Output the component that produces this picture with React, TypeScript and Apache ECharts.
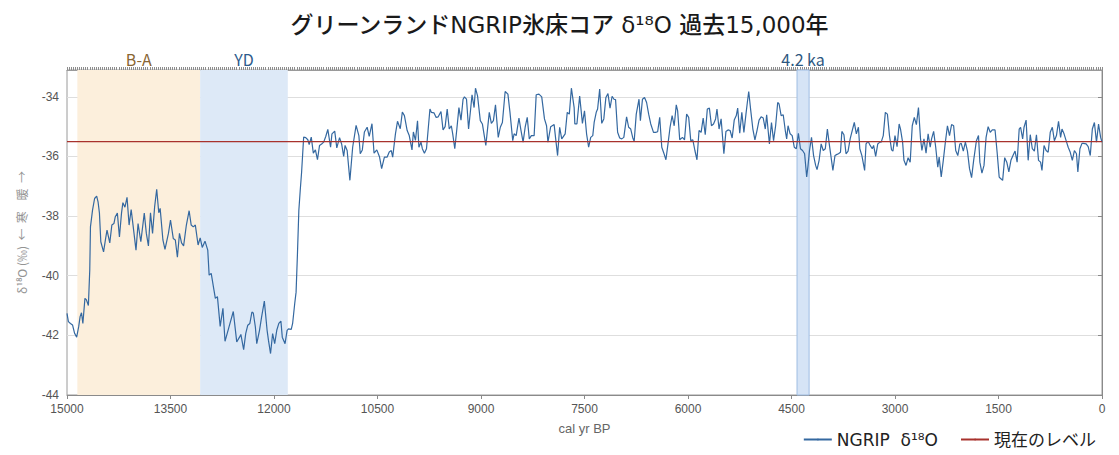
import React, { useEffect, useRef } from "react";
import * as echarts from "echarts";

// [cal yr BP, δ18O ‰]
const lateGlacialStart: [number, number][] = [
  [15000, -41.26], [14980, -41.54], [14950, -41.6], [14920, -41.65], [14890, -41.93], [14860, -42.06],
  [14830, -41.7], [14810, -41.37], [14790, -41.24], [14770, -41.6], [14740, -40.76], [14720, -40.8],
  [14690, -41.0], [14670, -39.8], [14660, -38.36], [14630, -37.8], [14600, -37.41], [14570, -37.33],
];
const bollingAllerod: [number, number][] = [
  [14550, -37.52], [14530, -37.9], [14510, -38.86], [14470, -39.2], [14440, -38.75], [14420, -38.47],
  [14380, -38.9], [14350, -38.3], [14320, -38.25], [14300, -38.02], [14270, -37.9], [14240, -38.7],
  [14210, -37.9], [14190, -37.55], [14160, -37.7], [14130, -37.37], [14100, -38.3], [14070, -37.78],
  [14040, -38.36], [14000, -39.14], [13970, -38.25], [13930, -38.86], [13880, -37.9], [13850, -38.58],
  [13820, -39.0], [13790, -37.89], [13760, -38.58], [13730, -37.69], [13700, -37.1], [13670, -37.89],
  [13650, -37.74], [13610, -38.8], [13580, -39.12], [13530, -38.58], [13500, -38.13], [13460, -38.75],
  [13430, -38.8], [13400, -39.38], [13370, -38.58], [13340, -38.9], [13310, -39.0], [13270, -38.3],
  [13230, -37.82], [13200, -38.3], [13170, -38.36], [13140, -38.3], [13100, -38.97], [13070, -38.73],
];
const youngerDryas: [number, number][] = [
  [13040, -39.05], [13000, -38.84], [12960, -39.14], [12940, -39.98], [12910, -39.92], [12870, -40.48],
  [12850, -40.76], [12820, -40.7], [12780, -41.7], [12740, -41.09], [12710, -42.2], [12650, -41.7],
  [12590, -41.2], [12540, -42.22], [12500, -42.06], [12480, -41.97], [12440, -42.48], [12410, -41.94],
  [12380, -41.66], [12350, -41.6], [12320, -41.22], [12300, -41.25], [12270, -41.72], [12250, -42.28],
  [12210, -41.83], [12180, -41.39], [12140, -40.85], [12100, -41.83], [12080, -42.17], [12050, -42.61],
  [12020, -41.94], [11990, -42.28], [11960, -41.83], [11930, -41.6], [11900, -41.52], [11880, -42.06],
  [11840, -42.28], [11810, -41.83], [11790, -41.78], [11750, -41.8], [11730, -41.6], [11700, -40.94],
  [11680, -40.55], [11660, -39.26], [11640, -37.81], [11620, -37.14], [11600, -36.53],
];
const earlyHolocene: [number, number][] = [
  [11570, -35.35], [11540, -35.37], [11510, -35.44], [11490, -35.6], [11460, -35.35], [11430, -35.89],
  [11400, -35.78], [11370, -36.11], [11340, -35.63], [11310, -35.58], [11280, -35.52], [11250, -35.33],
  [11220, -35.09], [11180, -35.69], [11160, -35.24], [11120, -35.15], [11090, -35.71], [11050, -35.37],
  [11020, -35.58], [10990, -36.0], [10970, -35.63], [10940, -35.8], [10900, -36.8], [10860, -35.69],
  [10810, -34.96], [10770, -35.3], [10750, -35.91], [10720, -35.78], [10690, -35.18], [10650, -35.02],
  [10620, -35.33], [10580, -34.9], [10550, -35.89], [10510, -35.78], [10470, -36.02], [10440, -36.41],
  [10400, -36.02], [10360, -36.02], [10330, -35.85], [10300, -35.8], [10280, -36.02], [10240, -35.24],
  [10210, -34.82], [10170, -35.07], [10140, -34.51], [10110, -34.63], [10070, -35.13], [10040, -35.3],
  [10000, -35.78], [9980, -35.18], [9950, -35.46], [9920, -34.8], [9900, -35.69], [9870, -35.52],
  [9850, -35.74], [9820, -35.89], [9790, -35.74], [9740, -34.41], [9720, -34.52], [9680, -34.54],
  [9650, -34.69], [9620, -34.67], [9580, -34.49], [9550, -35.11], [9520, -35.0], [9490, -34.41],
  [9460, -35.08], [9430, -34.97], [9410, -35.24], [9380, -35.74], [9350, -35.08], [9320, -34.36],
  [9290, -34.78], [9260, -34.08], [9240, -34.0], [9210, -34.08], [9180, -35.08], [9150, -34.41],
  [9130, -33.93], [9100, -34.36], [9080, -33.71], [9050, -33.97], [9010, -34.8], [8980, -34.91],
  [8930, -35.63], [8880, -34.52], [8850, -34.89], [8820, -34.8], [8790, -34.27], [8750, -35.36],
  [8720, -35.02], [8690, -34.86], [8650, -33.82], [8610, -33.91], [8580, -34.52], [8540, -35.47],
  [8520, -35.24], [8490, -35.3], [8450, -34.71], [8420, -35.13], [8390, -35.52], [8360, -35.02],
  [8330, -34.69], [8300, -35.41], [8270, -35.3], [8230, -35.3], [8200, -33.93], [8160, -33.91],
];
const midHolocene: [number, number][] = [
  [8120, -34.0], [8080, -34.74], [8050, -34.97], [8030, -35.52], [7990, -35.0], [7940, -34.93],
  [7920, -35.36], [7890, -35.97], [7860, -35.02], [7830, -35.41], [7780, -35.24], [7750, -34.52],
  [7720, -34.58], [7690, -33.71], [7650, -34.36], [7640, -34.91], [7610, -34.91], [7570, -33.97],
  [7530, -34.89], [7500, -34.47], [7470, -35.24], [7440, -35.69], [7410, -35.36], [7380, -35.3],
  [7360, -34.86], [7330, -34.52], [7310, -34.41], [7280, -33.74], [7250, -34.89], [7220, -34.74],
  [7190, -34.02], [7160, -33.89], [7130, -34.38], [7100, -33.98], [7070, -34.09], [7050, -34.09],
  [7020, -35.19], [6990, -35.38], [6960, -35.41], [6930, -35.36], [6890, -34.67], [6860, -35.02],
  [6830, -35.08], [6800, -35.38], [6780, -35.49], [6750, -34.58], [6710, -34.08], [6690, -34.8],
  [6660, -34.08], [6630, -34.02], [6600, -34.19], [6570, -34.58], [6540, -34.91], [6500, -35.19],
  [6470, -35.19], [6440, -35.17], [6410, -34.69], [6380, -35.69], [6350, -35.89], [6320, -36.11],
  [6290, -35.58], [6260, -35.02], [6230, -34.63], [6200, -34.97], [6170, -34.27], [6150, -34.47],
  [6120, -35.44], [6080, -35.36], [6050, -35.44], [6020, -34.58], [5990, -34.69], [5960, -35.47],
  [5930, -35.44], [5900, -35.8], [5870, -36.11], [5840, -35.13], [5810, -35.19], [5780, -34.71],
  [5750, -35.27], [5720, -34.41], [5690, -34.38], [5660, -34.97], [5630, -34.91], [5600, -34.74],
  [5580, -34.41], [5550, -35.08], [5520, -34.74], [5480, -35.91], [5450, -35.16], [5420, -35.11],
  [5390, -35.13], [5360, -35.38], [5330, -34.78], [5300, -34.63], [5280, -34.38], [5250, -35.22],
  [5220, -34.52], [5190, -35.19], [5160, -34.58], [5140, -34.19], [5120, -33.82], [5090, -34.47],
  [5060, -35.08], [5030, -35.44], [5000, -35.13], [4970, -34.78], [4940, -34.67], [4910, -34.71],
  [4880, -35.08], [4860, -34.6], [4820, -35.58], [4790, -34.86], [4760, -35.47], [4730, -34.97],
  [4700, -34.19], [4680, -34.24], [4650, -34.63], [4620, -34.6], [4590, -35.13], [4570, -35.41],
  [4550, -34.97], [4520, -35.24], [4490, -35.3], [4460, -35.69],
];
const lateHolocene: [number, number][] = [
  [4430, -35.74], [4400, -35.22], [4370, -35.74], [4340, -35.8], [4310, -35.91], [4280, -36.69],
  [4260, -36.3], [4240, -35.82], [4210, -35.36], [4180, -35.97], [4150, -36.3], [4130, -36.44],
  [4100, -36.13], [4070, -35.58], [4040, -35.8], [4010, -35.74], [3980, -35.08], [3950, -35.63],
  [3920, -36.13], [3900, -36.47], [3870, -35.97], [3840, -35.93], [3820, -35.91], [3790, -35.86],
  [3770, -35.16], [3740, -35.27], [3710, -35.91], [3680, -35.82], [3650, -35.41], [3620, -35.13],
  [3590, -34.86], [3560, -35.24], [3530, -35.02], [3510, -35.74], [3480, -35.97], [3440, -36.47],
  [3420, -35.58], [3390, -35.49], [3360, -35.63], [3330, -35.74], [3310, -35.63], [3280, -36.0],
  [3250, -35.58], [3220, -35.52], [3200, -35.52], [3170, -35.3], [3140, -34.52], [3110, -34.58],
  [3080, -35.3], [3050, -35.78], [3030, -35.82], [3000, -35.3], [2970, -35.67], [2940, -34.91],
  [2920, -35.08], [2890, -35.52], [2870, -36.13], [2840, -36.3], [2810, -36.04], [2780, -36.19],
  [2750, -34.97], [2720, -34.69], [2690, -34.93], [2660, -34.36], [2630, -35.41], [2610, -35.8],
  [2580, -35.41], [2550, -35.89], [2520, -35.24], [2490, -35.69], [2470, -35.41], [2440, -35.16],
  [2410, -35.69], [2380, -36.36], [2360, -36.02], [2330, -36.69], [2300, -36.13], [2270, -35.52],
  [2240, -34.97], [2210, -35.3], [2180, -34.93], [2150, -34.97], [2120, -35.8], [2090, -35.97],
  [2060, -35.58], [2040, -35.56], [2010, -35.82], [1980, -35.52], [1950, -35.82], [1920, -36.41],
  [1890, -36.71], [1860, -36.13], [1820, -35.47], [1790, -35.3], [1770, -36.19], [1740, -36.56],
  [1710, -36.3], [1680, -35.36], [1650, -35.0], [1620, -35.19], [1590, -35.11], [1550, -35.11],
  [1520, -35.86], [1490, -36.69], [1470, -36.74], [1440, -36.8], [1410, -36.04], [1380, -36.19],
  [1350, -36.52], [1320, -36.13], [1290, -35.97], [1260, -35.82], [1230, -36.19], [1200, -35.08],
  [1180, -35.02], [1150, -35.41], [1130, -35.02], [1100, -34.78], [1070, -36.13], [1040, -35.27],
  [1010, -35.74], [980, -35.82], [950, -35.27], [920, -36.13], [890, -36.19], [870, -36.47],
  [840, -35.63], [810, -35.8], [780, -35.86], [750, -35.19], [720, -35.02], [690, -35.47],
  [660, -35.3], [630, -34.82], [600, -35.36], [580, -35.08], [550, -35.24], [520, -35.47],
  [490, -35.69], [460, -35.86], [430, -36.13], [400, -35.8], [370, -35.91], [350, -36.52],
  [320, -35.74], [290, -35.56], [270, -35.56], [230, -35.58], [200, -35.67], [170, -35.97],
  [140, -35.08], [110, -34.86], [80, -35.52], [50, -34.91], [20, -35.36], [0, -35.52],
];

const presentLevel = -35.5;
const xTicks = { min: 0, max: 15000, interval: 1500 };
const yTicks = { min: -44, max: -33.1, interval: 2 };

const periods = [
  { name: "B-A", from: 14850, to: 13070, fill: "#fcefdc", text: "#8a6633", border: "transparent" },
  { name: "YD", from: 13070, to: 11800, fill: "#dde9f7", text: "#2d5b8c", border: "transparent" },
  { name: "4.2 ka", from: 4420, to: 4245, fill: "#d6e4f6", text: "#2d5780", border: "#9fbde3" },
];

const seriesNames = ["NGRIP  δ¹⁸O", "現在のレベル"];
const titleText = "グリーンランドNGRIP氷床コア δ¹⁸O 過去15,000年";
const xAxisTitle = "cal yr BP";
const yAxisTitle = "δ¹⁸O (‰)  ←  寒    暖  →";

const ngrip = [
  ...lateGlacialStart,
  ...bollingAllerod,
  ...youngerDryas,
  ...earlyHolocene,
  ...midHolocene,
  ...lateHolocene,
];

export default function App() {
  const ref = useRef<HTMLDivElement>(null);
  useEffect(() => {
    document.body.style.margin = "0";
    if (!ref.current) return;
    const chart = echarts.init(ref.current, undefined, { renderer: "svg" });
    const sans = "'Liberation Sans', Arial, sans-serif";
    const cjk = "'Noto Sans CJK JP', 'Noto Sans', sans-serif";
    const wide = "'DejaVu Sans', 'Noto Sans CJK JP', sans-serif";
    chart.setOption({
      animation: false,
      backgroundColor: "#ffffff",
      title: {
        text: titleText,
        left: "center",
        top: 8,
        textStyle: { fontFamily: wide, fontSize: 23, fontWeight: 500, color: "#1a1a1a" },
      },
      grid: {
        left: 67,
        right: 17,
        top: 70,
        bottom: 60,
        show: true,
        borderColor: "#9a9a9a",
        borderWidth: 1,
        backgroundColor: "transparent",
      },
      legend: {
        data: seriesNames,
        right: 18,
        top: 426,
        itemWidth: 28,
        itemHeight: 2,
        itemGap: 22,
        textStyle: { fontFamily: wide, fontSize: 17, color: "#222" },
      },
      xAxis: [
        {
          type: "value",
          min: xTicks.min,
          max: xTicks.max,
          interval: xTicks.interval,
          inverse: true,
          position: "bottom",
          name: xAxisTitle,
          nameLocation: "middle",
          nameGap: 27,
          nameTextStyle: { fontFamily: sans, fontSize: 13, color: "#666" },
          axisLine: { show: true, lineStyle: { color: "#8a8a8a" } },
          axisTick: { show: true, length: 4, lineStyle: { color: "#8a8a8a" } },
          axisLabel: { fontFamily: sans, fontSize: 12, color: "#555", margin: 8, formatter: (v: number) => String(v) },
          splitLine: { show: false },
        },
        {
          type: "value",
          min: 0,
          max: 15000,
          interval: 30,
          inverse: true,
          position: "top",
          axisLine: { show: true, lineStyle: { color: "#9a9a9a" } },
          axisTick: { show: true, length: 3, lineStyle: { color: "#8c8c8c", width: 1 } },
          axisLabel: { show: false },
          splitLine: { show: false },
        },
      ],
      yAxis: {
        type: "value",
        min: yTicks.min,
        max: yTicks.max,
        interval: yTicks.interval,
        name: yAxisTitle,
        nameLocation: "middle",
        nameGap: 40,
        nameRotate: 90,
        nameTextStyle: { fontFamily: cjk, fontSize: 12, color: "#939393" },
        axisLine: { show: true, lineStyle: { color: "#8a8a8a" } },
        axisTick: { show: true, length: 4, lineStyle: { color: "#8a8a8a" } },
        axisLabel: { fontFamily: sans, fontSize: 12, color: "#555", showMaxLabel: false, margin: 8 },
        splitLine: { show: true, lineStyle: { color: "#dedede" } },
      },
      series: [
        {
          name: "periods",
          type: "line",
          data: [],
          z: 1,
          silent: true,
          markArea: {
            silent: true,
            data: periods.map((p) => [
              {
                xAxis: p.from,
                yAxis: yTicks.max,
                name: p.name,
                itemStyle: { color: p.fill, borderColor: p.border, borderWidth: p.border === "transparent" ? 0 : 1 },
                label: { color: p.text },
              },
              { xAxis: p.to, yAxis: yTicks.min },
            ]),
            label: {
              show: true,
              position: "top",
              distance: 3,
              fontFamily: cjk,
              fontSize: 16,
            },
          },
        },
        {
          name: seriesNames[0],
          type: "line",
          data: ngrip,
          showSymbol: false,
          symbol: "none",
          z: 3,
          lineStyle: { color: "#3468a0", width: 1.2 },
          itemStyle: { color: "#3468a0" },
        },
        {
          name: seriesNames[1],
          type: "line",
          data: [
            [xTicks.max, presentLevel],
            [xTicks.min, presentLevel],
          ],
          showSymbol: false,
          symbol: "none",
          z: 4,
          lineStyle: { color: "#a8322d", width: 1.2 },
          itemStyle: { color: "#a8322d" },
        },
      ],
    });
    return () => chart.dispose();
  }, []);
  return <div ref={ref} style={{ width: 1119, height: 455 }} />;
}
